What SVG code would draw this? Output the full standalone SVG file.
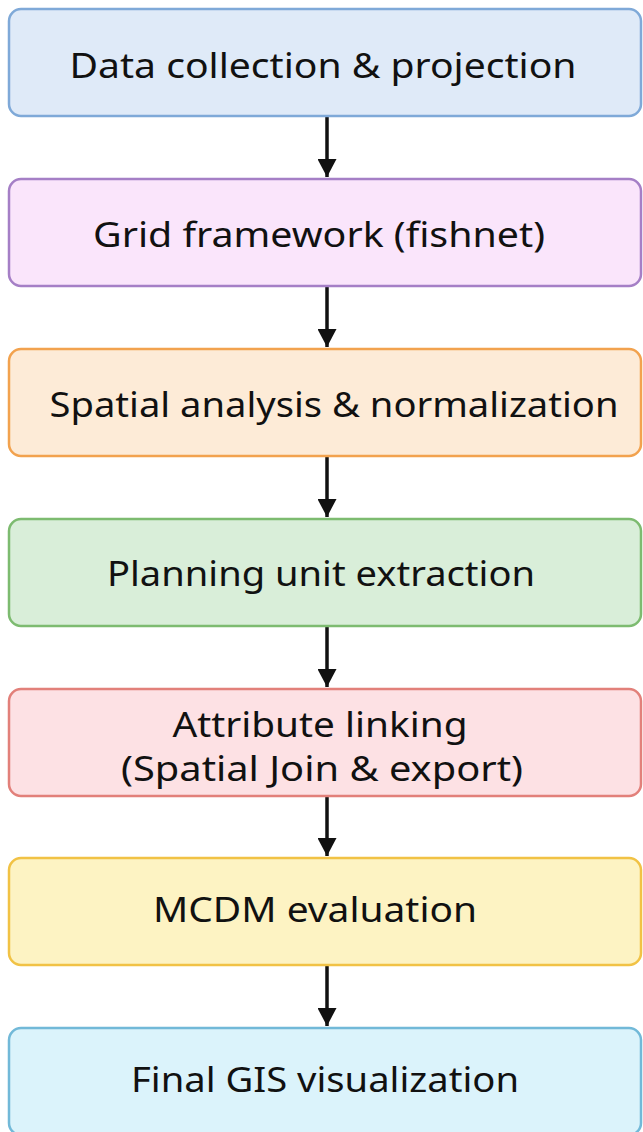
<svg xmlns="http://www.w3.org/2000/svg" width="643" height="1132" viewBox="0 0 643 1132">
<defs>
<marker id="ah" markerWidth="19" markerHeight="19" refX="18" refY="9.5" orient="auto" markerUnits="userSpaceOnUse" viewBox="0 0 19 19">
<path d="M0,0 L18,9.5 L0,19 Z" fill="#111"/>
</marker>
<style>
.box{stroke-width:2.5}
.t{font-family:"Noto Sans","Open Sans",sans-serif;font-size:35px;fill:#111;text-anchor:middle}
.c{stroke:#111;stroke-width:3.5;fill:none}
</style>
</defs>
<rect width="643" height="1132" fill="#ffffff"/>
<g id="connectors">
<line class="c" x1="327" y1="117" x2="327" y2="177" marker-end="url(#ah)"/>
<line class="c" x1="327" y1="287" x2="327" y2="347" marker-end="url(#ah)"/>
<line class="c" x1="327" y1="457" x2="327" y2="517" marker-end="url(#ah)"/>
<line class="c" x1="327" y1="627" x2="327" y2="687" marker-end="url(#ah)"/>
<line class="c" x1="327" y1="797" x2="327" y2="856" marker-end="url(#ah)"/>
<line class="c" x1="327" y1="966" x2="327" y2="1026" marker-end="url(#ah)"/>
</g>
<g id="n1"><rect class="box" x="9" y="9" width="632" height="107" rx="12" fill="#dfeaf8" stroke="#7fa9d8"/>
<text class="t" x="323" y="78" textLength="507" lengthAdjust="spacingAndGlyphs">Data collection &amp; projection</text></g>
<g id="n2"><rect class="box" x="9" y="179" width="632" height="107" rx="12" fill="#fae5fb" stroke="#a57fc6"/>
<text class="t" x="319" y="247" textLength="452" lengthAdjust="spacingAndGlyphs">Grid framework (fishnet)</text></g>
<g id="n3"><rect class="box" x="9" y="349" width="632" height="107" rx="12" fill="#fdebd7" stroke="#f2a24e"/>
<text class="t" x="334" y="417" textLength="569" lengthAdjust="spacingAndGlyphs">Spatial analysis &amp; normalization</text></g>
<g id="n4"><rect class="box" x="9" y="519" width="632" height="107" rx="12" fill="#d9eed9" stroke="#7dbb70"/>
<text class="t" x="321" y="586" textLength="428" lengthAdjust="spacingAndGlyphs">Planning unit extraction</text></g>
<g id="n5"><rect class="box" x="9" y="689" width="632" height="107" rx="12" fill="#fde1e4" stroke="#e2807a"/>
<text class="t" x="320" y="737" textLength="295" lengthAdjust="spacingAndGlyphs">Attribute linking</text>
<text class="t" x="322" y="781" textLength="402" lengthAdjust="spacingAndGlyphs">(Spatial Join &amp; export)</text></g>
<g id="n6"><rect class="box" x="9" y="858" width="632" height="107" rx="12" fill="#fdf3c3" stroke="#f1c245"/>
<text class="t" x="315" y="922" textLength="324" lengthAdjust="spacingAndGlyphs">MCDM evaluation</text></g>
<g id="n7"><rect class="box" x="9" y="1028" width="632" height="107" rx="12" fill="#dbf3fb" stroke="#72b9d8"/>
<text class="t" x="325" y="1092" textLength="388" lengthAdjust="spacingAndGlyphs">Final GIS visualization</text></g>
</svg>
